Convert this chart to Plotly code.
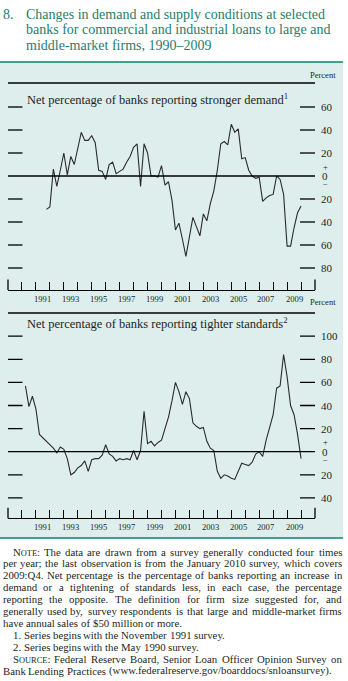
import plotly.graph_objects as go

W, H = 348, 681

# ---------------- data (quarterly survey readings, percent) ----------------
demand_start = 1991.75          # November 1991 survey
demand = [-29, -27, 6, -9, 5, 20, 1, 17, 10, 25, 38, 31, 31, 35, 29, 5, 4, -3,
          10, 12, 2, 4, 6, 12, 17, 25, 28, -9, 28, 20, 0, 0, -1, 9, -8, -5,
          -21, -47, -41, -55, -70, -53, -36, -44, -52, -33, -39, -24, -13, 5,
          28, 30, 27, 45, 38, 41, 15, 16, 5, 0, -2, -1, -22, -19, -17, -16,
          0, -3, -16, -61, -61, -45, -32, -26]

standards_start = 1990.25       # May 1990 survey
standards = [57, 39, 48, 37, 15, 12, 9, 6, 3, -1, 4, 2, -6, -20, -18, -14, -12,
             -8, -17, -7, -6, -6, -3, 6, -2, -4, -8, -6, -7, -6, -7, 1, -7, 1,
             35, 7, 9, 5, 8, 10,
             20, 30, 44, 60, 52, 41, 52, 46, 25, 22, 20, 21, 9, 3, 1, -17, -23,
             -20, -21, -23, -24, -17, -10, -11, -12, -9, -2, 0, -4, 10, 20, 32,
             55, 57, 84, 65, 40, 32, 15, -6]

years = list(range(1989, 2012))
year_labels = [str(y) for y in range(1991, 2010, 2)]

demand_ticks = [60, 40, 20, 0, -20, -40, -60, -80]
demand_tick_text = ["60", "40", "20", "0", "20", "40", "60", "80"]
standards_ticks = [100, 80, 60, 40, 20, 0, -20, -40]
standards_tick_text = ["100", "80", "60", "40", "20", "0", "20", "40"]

heading = ["Changes in demand and supply conditions at selected",
           "banks for commercial and industrial loans to large and",
           "middle-market firms, 1990\u20132009"]
title_top = "Net percentage of banks reporting stronger demand"
title_bottom = "Net percentage of banks reporting tighter standards"

notes = [
    ("NOTE: The data are drawn from a survey generally conducted four times", True, True),
    ("per year; the last observation is from the January 2010 survey, which covers", False, True),
    ("2009:Q4. Net percentage is the percentage of banks reporting an increase in", False, True),
    ("demand or a tightening of standards less, in each case, the percentage", False, True),
    ("reporting the opposite. The definition for firm size suggested for, and", False, True),
    ("generally used by, survey respondents is that large and middle-market firms", False, True),
    ("have annual sales of $50 million or more.", False, False),
    ("1. Series begins with the November 1991 survey.", True, False),
    ("2. Series begins with the May 1990 survey.", True, False),
    ("SOURCE: Federal Reserve Board, Senior Loan Officer Opinion Survey on", True, True),
    ("Bank Lending Practices (www.federalreserve.gov/boarddocs/snloansurvey).", False, False),
]

# ---------------- styling ----------------
FONT = "Liberation Serif"
TXT = "#231f20"
TEAL = "#00866c"
HEAD = "#1f7d6c"
BG = "#deeeec"


def P(x):
    return x / W


def Q(y):
    return 1 - y / H


demand_x = [demand_start + 0.25 * i for i in range(len(demand))]
standards_x = [standards_start + 0.25 * i for i in range(len(standards))]

fig = go.Figure()
fig.add_trace(go.Scatter(x=demand_x, y=demand, mode="lines",
                         line=dict(color="#2b2b2b", width=1.1),
                         xaxis="x", yaxis="y", hoverinfo="skip"))
fig.add_trace(go.Scatter(x=standards_x, y=standards, mode="lines",
                         line=dict(color="#2b2b2b", width=1.1),
                         xaxis="x2", yaxis="y2", hoverinfo="skip"))

XL, XR = 8, 315
top_zero, top_ppu, top_axis, top_line = 176, 1.15, 290, 83
bot_zero, bot_ppu, bot_axis, bot_line = 451.7, 1.155, 518.3, 313

xcommon = dict(range=[1989, 2011], domain=[P(XL), P(XR)], showgrid=False,
               zeroline=False, showline=True, linecolor="black", linewidth=1.3,
               ticks="inside", tickvals=years[1:-1], ticklen=8, tickwidth=1.2,
               tickcolor="black", showticklabels=False, fixedrange=True)
fig.update_layout(
    width=W, height=H, margin=dict(l=0, r=0, t=0, b=0),
    paper_bgcolor="white", plot_bgcolor="rgba(0,0,0,0)", showlegend=False,
    xaxis=dict(**xcommon, anchor="y"),
    yaxis=dict(domain=[Q(top_axis), Q(top_line)],
               range=[(top_zero - top_axis) / top_ppu, (top_zero - top_line) / top_ppu],
               visible=False, fixedrange=True),
    xaxis2=dict(**xcommon, anchor="y2"),
    yaxis2=dict(domain=[Q(bot_axis), Q(bot_line)],
                range=[(bot_zero - bot_axis) / bot_ppu, (bot_zero - bot_line) / bot_ppu],
                visible=False, fixedrange=True),
)

shapes = []
# panel background and teal rules
shapes.append(dict(type="rect", xref="paper", yref="paper", x0=0, x1=P(343),
                   y0=Q(538), y1=Q(62), fillcolor=BG, line_width=0, layer="below"))
for yy in (62, 538):
    shapes.append(dict(type="line", xref="paper", yref="paper", x0=0, x1=P(343),
                       y0=Q(yy), y1=Q(yy), line=dict(color=TEAL, width=1.5)))
# rules under "Percent"
for yy in (top_line, bot_line):
    shapes.append(dict(type="line", xref="paper", yref="paper", x0=P(XL), x1=P(XR),
                       y0=Q(yy), y1=Q(yy), line=dict(color="black", width=1.3)))
# end ticks on the time axes
for ax_y in (top_axis, bot_axis):
    for xe in (XL, XR):
        shapes.append(dict(type="line", xref="paper", yref="paper", x0=P(xe), x1=P(xe),
                           y0=Q(ax_y), y1=Q(ax_y - 10.5), line=dict(color="black", width=1.3)))
# value dashes & zero lines
for yref, ticks in (("y", demand_ticks), ("y2", standards_ticks)):
    for v in ticks:
        if v == 0:
            shapes.append(dict(type="line", xref="paper", yref=yref, x0=P(XL), x1=P(XR),
                               y0=0, y1=0, line=dict(color="black", width=1.3)))
        else:
            for a, b in ((XL, 22.5), (300, XR)):
                shapes.append(dict(type="line", xref="paper", yref=yref, x0=P(a), x1=P(b),
                                   y0=v, y1=v, line=dict(color="black", width=1.3)))
fig.update_layout(shapes=shapes)

ann = []


def text(t, x, y, size, xanchor="left", yanchor="middle", color=TXT, xref="paper", yref="paper"):
    ann.append(dict(text=t, x=x, y=y, xref=xref, yref=yref, xanchor=xanchor, yanchor=yanchor,
                    showarrow=False, borderpad=0, borderwidth=0,
                    font=dict(family=FONT, size=size, color=color)))


# heading
text("8.", P(3), Q(14.1), 14, color=HEAD)
for i, line in enumerate(heading):
    text(line, P(26), Q(14.1 + 15.5 * i), 14, color=HEAD)

# panel titles
text(title_top + "<sup>1</sup>", P(26.5), Q(98.5), 12.5)
text(title_bottom + "<sup>2</sup>", P(26.5), Q(323), 12.5)
text("Percent", P(335.5), Q(75), 8.5, xanchor="right")
text("Percent", P(335.5), Q(301.5), 8.5, xanchor="right")

# right value labels
for yref, ticks, labels in (("y", demand_ticks, demand_tick_text),
                            ("y2", standards_ticks, standards_tick_text)):
    zero_px = top_zero if yref == "y" else bot_zero
    for v, lab in zip(ticks, labels):
        if v == 0:
            text("0", P(325), 0, 11, xanchor="center", yref=yref)
            text("+", P(325), Q(zero_px - 9.5), 8.5, xanchor="center")
            text("\u2212", P(325), Q(zero_px + 8), 8.5, xanchor="center")
        else:
            text(lab, P(321), v, 11, yref=yref)

# year labels
for axis_y in (top_axis, bot_axis):
    for lab in year_labels:
        text(lab, int(lab) + 0.5, Q(axis_y + 8.5), 8.6, xanchor="center",
             xref="x" if axis_y == top_axis else "x2")

# ---------------- notes (justified, Times metrics) ----------------
TW = {' ': 250, '!': 333, '"': 408, '#': 500, '$': 500, '%': 833, '&': 778, "'": 333,
      '(': 333, ')': 333, '*': 500, '+': 564, ',': 250, '-': 333, '.': 250, '/': 278,
      ':': 278, ';': 278, '?': 444, '@': 921,
      'A': 722, 'B': 667, 'C': 667, 'D': 722, 'E': 611, 'F': 556, 'G': 722, 'H': 722,
      'I': 333, 'J': 389, 'K': 722, 'L': 611, 'M': 889, 'N': 722, 'O': 722, 'P': 556,
      'Q': 722, 'R': 667, 'S': 556, 'T': 611, 'U': 722, 'V': 722, 'W': 944, 'X': 722,
      'Y': 722, 'Z': 611, 'a': 444, 'b': 500, 'c': 444, 'd': 500, 'e': 444, 'f': 333,
      'g': 500, 'h': 500, 'i': 278, 'j': 278, 'k': 500, 'l': 278, 'm': 778, 'n': 500,
      'o': 500, 'p': 500, 'q': 500, 'r': 333, 's': 389, 't': 278, 'u': 500, 'v': 500,
      'w': 722, 'x': 500, 'y': 500, 'z': 444}
FS = 10.8
SC = 0.78


def width(s, size):
    return sum(TW.get(c, 500) for c in s) / 1000 * size


def word_markup(w):
    if w in ("NOTE:", "SOURCE:"):
        core = w[1:-1]
        mk = w[0] + "<span style='font-size:%.1fpx'>%s</span>:" % (FS * SC, core)
        wd = width(w[0], FS) + width(core, FS * SC) + width(":", FS)
        return mk, wd
    return w, width(w, FS)


LEFT, RIGHT, INDENT = 2.7, 342, 12.7
for i, (line, indent, justify) in enumerate(notes):
    y = 551.5 + 11.93 * i
    words = [word_markup(w) for w in line.split(" ")]
    x0 = INDENT if indent else LEFT
    total = sum(wd for _, wd in words)
    if justify and len(words) > 1:
        gap = (RIGHT - x0 - total) / (len(words) - 1)
    else:
        gap = width(" ", FS)
    x = x0
    for mk, wd in words:
        text(mk, P(x), Q(y), FS)
        x += wd + gap

fig.update_layout(annotations=ann)
fig.write_html("out.html")
